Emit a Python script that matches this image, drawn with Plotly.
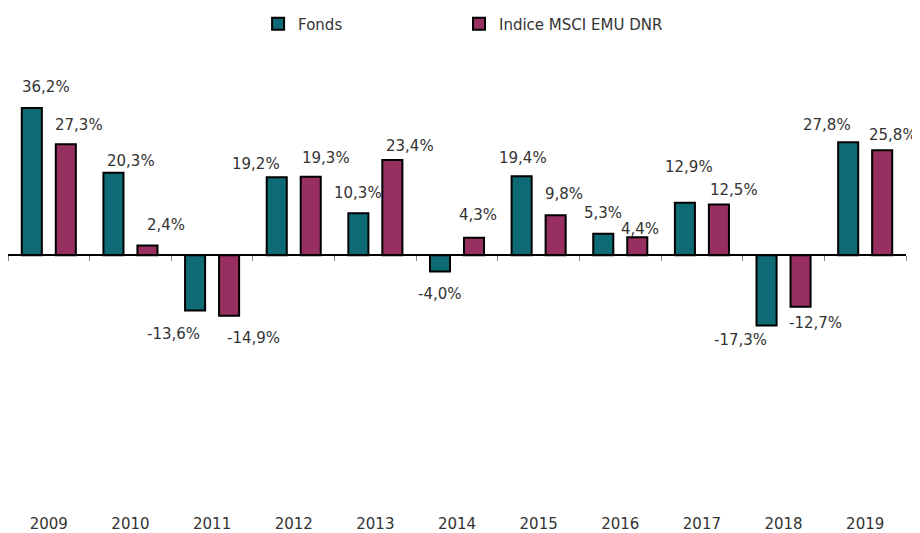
import plotly.graph_objects as go

years = ["2009", "2010", "2011", "2012", "2013", "2014", "2015", "2016", "2017", "2018", "2019"]
fonds = [36.2, 20.3, -13.6, 19.2, 10.3, -4.0, 19.4, 5.3, 12.9, -17.3, 27.8]
indice = [27.3, 2.4, -14.9, 19.3, 23.4, 4.3, 9.8, 4.4, 12.5, -12.7, 25.8]
series_names = ["Fonds", "Indice MSCI EMU DNR"]

# label nudges (px) relative to category centre / bar end, as in the reference
fonds_dx = [-3, 1, -39, -38, -17, -17, -16, -17, -13, -43, -38]
fonds_dy = [21, 12, -24, 13, 20, -23, 18, 21, 36, -15, 17]
ind_dx = [30, 36, 41, 32, 35, 21, 25, 20, 32, 32, 28]
ind_dy = [19, 20, -22, 19, 14, 23, 21, 8, 14, -16, 15]

TEAL = "#0E6A75"
PLUM = "#972F61"
FONT = "DejaVu Sans, Verdana, sans-serif"
TXT = "#333333"

y_min, y_max = -60, 50

fig = go.Figure()
fig.add_trace(go.Bar(x=years, y=fonds, name=series_names[0], legend="legend",
                     marker=dict(color=TEAL, line=dict(color="black", width=2))))
fig.add_trace(go.Bar(x=years, y=indice, name=series_names[1], legend="legend2",
                     marker=dict(color=PLUM, line=dict(color="black", width=2))))

def fmt(v):
    return f"{v:.1f}".replace(".", ",") + "%"

annotations = []
for vals, dxs, dys in ((fonds, fonds_dx, fonds_dy), (indice, ind_dx, ind_dy)):
    for i, (v, dx, dy) in enumerate(zip(vals, dxs, dys)):
        annotations.append(dict(x=i, y=v, xref="x", yref="y", text=fmt(v),
                                showarrow=False, xanchor="center", yanchor="middle",
                                xshift=dx, yshift=dy,
                                font=dict(family=FONT, size=15, color=TXT)))

zero_frac = (0 - y_min) / (y_max - y_min)
legend_style = dict(orientation="h", xanchor="left", yanchor="middle", y=1.0627,
                    font=dict(family=FONT, size=15, color=TXT),
                    itemwidth=30, bgcolor="rgba(0,0,0,0)")

fig.update_layout(
    width=912, height=525,
    margin=dict(l=0, r=14, t=44, b=34.4, pad=0, autoexpand=False),
    paper_bgcolor="white", plot_bgcolor="white",
    barmode="group", bargap=0.167, bargroupgap=0.41,
    font=dict(family=FONT, size=15, color=TXT),
    showlegend=True,
    legend=dict(x=0.2785, **legend_style),
    legend2=dict(x=0.5022, **legend_style),
    annotations=annotations,
    xaxis=dict(type="category", categoryarray=years, categoryorder="array",
               range=[-0.5, len(years) - 0.5], automargin=False,
               anchor="free", position=zero_frac,
               showline=True, linecolor="black", linewidth=1.5,
               ticks="outside", tickson="boundaries", ticklen=5, tickwidth=1,
               tickcolor="#888888", showgrid=False, tickangle=0,
               ticklabelstandoff=255,
               tickfont=dict(family=FONT, size=15, color=TXT)),
    yaxis=dict(range=[y_min, y_max], visible=False, showgrid=False, zeroline=False,
               automargin=False),
)

fig.write_html("out.html")
